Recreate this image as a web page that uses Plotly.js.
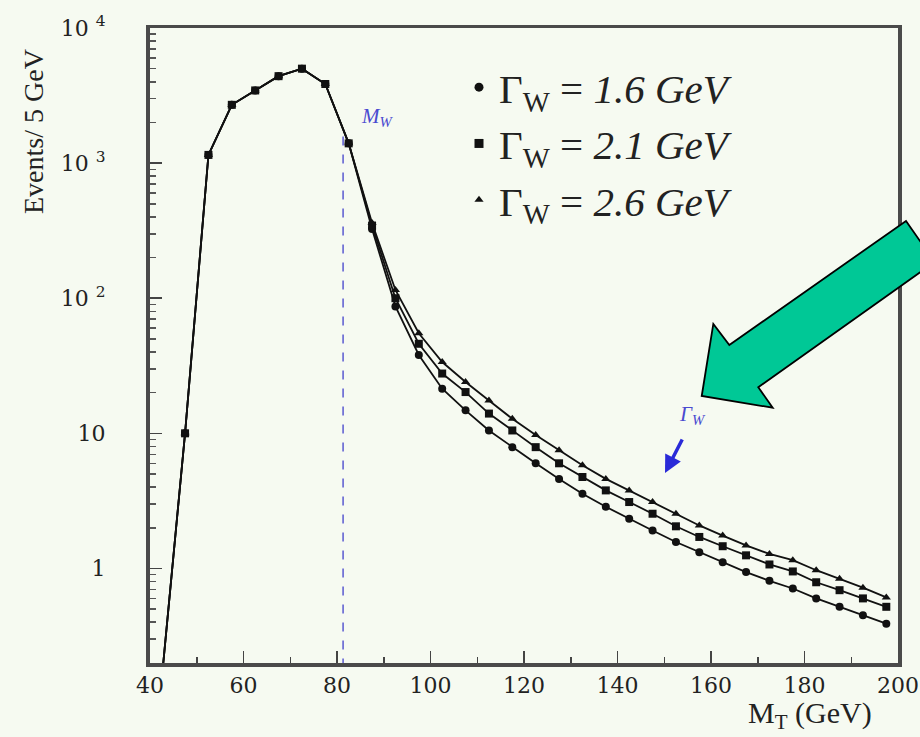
<!DOCTYPE html>
<html>
<head>
<meta charset="utf-8">
<script src="https://cdn.plot.ly/plotly-3.0.1.min.js"></script>
<style>
  html, body { margin: 0; padding: 0; background: #f6faf1; }
  #chart { width: 920px; height: 737px; }
</style>
</head>
<body>
<div id="chart"></div>
<script>
// ---- data ----
const mT = [42.5, 47.5, 52.5, 57.5, 62.5, 67.5, 72.5, 77.5, 82.5,
            87.5, 92.5, 97.5, 102.5, 107.5, 112.5, 117.5, 122.5, 127.5, 132.5,
            137.5, 142.5, 147.5, 152.5, 157.5, 162.5, 167.5, 172.5, 177.5,
            182.5, 187.5, 192.5, 197.5];
// common part of the three curves (42.5 .. 82.5 GeV)
const head = [0.15, 10, 1150, 2700, 3450, 4400, 5000, 3850, 1400];
// tails (87.5 .. 197.5 GeV)
const tail16 = [325, 87, 38, 21.4, 14.8, 10.5, 7.9, 6.0, 4.6, 3.57, 2.86, 2.33,
                1.91, 1.57, 1.32, 1.11, 0.94, 0.81, 0.71, 0.60, 0.52, 0.45, 0.39];
const tail21 = [345, 100, 46, 27.7, 20.2, 14.0, 10.5, 7.9, 6.0, 4.75, 3.78, 3.10,
                2.54, 2.05, 1.71, 1.46, 1.25, 1.07, 0.95, 0.79, 0.69, 0.60, 0.52];
const tail26 = [360, 115, 55, 33.7, 24, 17.5, 12.8, 9.7, 7.5, 5.8, 4.6, 3.78,
                3.10, 2.54, 2.08, 1.75, 1.48, 1.28, 1.15, 0.97, 0.84, 0.72, 0.61];
const seriesNames = ['Γ<sub>W</sub>&nbsp;= <i>1.6&nbsp;GeV</i>',
                     'Γ<sub>W</sub>&nbsp;= <i>2.1&nbsp;GeV</i>',
                     'Γ<sub>W</sub>&nbsp;= <i>2.6&nbsp;GeV</i>'];
const seriesSymbols = ['circle', 'square', 'triangle-up'];
const mW = 81.3;           // position of the dashed M_W line
const mWLineY = [0.1, 1700];
const xTicks = [40, 60, 80, 100, 120, 140, 160, 180, 200];
const yTicks = [1, 10, 100, 1000, 10000];
const yTickText = ['1', '10', '10 <sup>2</sup>', '10 <sup>3</sup>', '10 <sup>4</sup>'];

// ---- geometry helpers (plot area in pixels) ----
const L = 150, R = 898, T = 28, B = 663;
const px = x => (x - L) / (R - L);
const py = y => (B - y) / (B - T);

const tails = [tail16, tail21, tail26];
const traces = [];
// dashed M_W line
traces.push({
  x: [mW, mW], y: mWLineY, mode: 'lines', showlegend: false, hoverinfo: 'skip',
  line: {color: '#5a5ad0', width: 1.5, dash: 'dash'}
});
tails.forEach((t, i) => {
  traces.push({
    x: mT, y: head.concat(t), mode: 'lines+markers', showlegend: false,
    name: seriesNames[i],
    line: {color: '#111', width: 1.8},
    marker: {color: '#111', size: 8, symbol: seriesSymbols[i]}
  });
});
// legend entries (marker only, as in the reference)
seriesNames.forEach((n, i) => {
  traces.push({
    x: [null], y: [null], mode: 'markers', name: n, legendgroup: 'g' + i,
    marker: {color: '#111', size: i === 2 ? 8 : 9, symbol: seriesSymbols[i]}
  });
});

const serif = 'Liberation Serif, Times New Roman, serif';
const layout = {
  width: 920, height: 737,
  margin: {l: L, r: 920 - R, t: T, b: 737 - B},
  paper_bgcolor: '#f6faf1', plot_bgcolor: '#f6faf1',
  showlegend: true,
  legend: {
    x: px(459), y: py(54), xanchor: 'left', yanchor: 'top',
    bgcolor: 'rgba(0,0,0,0)', borderwidth: 0,
    font: {family: serif, size: 41, color: '#222'},
    itemwidth: 30, tracegroupgap: 0, traceorder: 'normal'
  },
  xaxis: {
    range: [40, 200], tickvals: xTicks, ticks: 'inside', ticklen: 12, tickwidth: 1.5,
    tickcolor: '#444', showgrid: false, zeroline: false,
    showline: true, mirror: true, linewidth: 3.5, linecolor: '#4a4a4a',
    tickfont: {family: 'DejaVu Serif, serif', size: 22, color: '#222'},
    minor: {dtick: 10, ticks: 'inside', ticklen: 6, tickcolor: '#444', showgrid: false}
  },
  yaxis: {
    type: 'log', range: [-0.7, 4], tickvals: yTicks, ticktext: yTickText,
    ticks: 'inside', ticklen: 12, tickwidth: 1.5, tickcolor: '#444',
    showgrid: false, zeroline: false,
    showline: true, mirror: true, linewidth: 4, linecolor: '#4a4a4a',
    ticklabelstandoff: 36,
    tickfont: {family: 'DejaVu Serif, serif', size: 22, color: '#222'},
    minor: {dtick: 'D1', ticks: 'inside', ticklen: 6, tickcolor: '#555', showgrid: false}
  },
  annotations: [
    {xref: 'paper', yref: 'paper', x: px(33), y: py(132), xanchor: 'center', yanchor: 'middle',
     text: 'Events/ 5 GeV', textangle: -90, showarrow: false,
     font: {family: serif, size: 28, color: '#222'}},
    {xref: 'paper', yref: 'paper', x: px(810), y: py(736), xanchor: 'center', yanchor: 'bottom',
     text: 'M<sub>T</sub>&nbsp;(GeV)', showarrow: false,
     font: {family: serif, size: 30, color: '#222'}},
    {xref: 'paper', yref: 'paper', x: px(377), y: py(117), xanchor: 'center', yanchor: 'middle',
     text: '<i>M<sub>W</sub></i>', showarrow: false,
     font: {family: serif, size: 21, color: '#4a4ad0'}},
    {xref: 'paper', yref: 'paper', x: px(692), y: py(415), xanchor: 'center', yanchor: 'middle',
     text: '<i>Γ<sub>W</sub></i>', showarrow: false,
     font: {family: serif, size: 21, color: '#4a4ad0'}},
    {xref: 'paper', yref: 'paper', x: px(665), y: py(473), text: '',
     showarrow: true, ax: 18, ay: -35, arrowhead: 2, arrowsize: 1, arrowwidth: 3.5,
     arrowcolor: '#2a2ad8'}
  ],
  shapes: [
    {type: 'path', xref: 'paper', yref: 'paper',
     path: 'M ' + [[701.7, 396], [713.3, 324], [729.3, 345], [906, 221], [934.7, 262],
                   [758.3, 387.3], [772.7, 407.7]]
            .map(p => px(p[0]).toFixed(4) + ' ' + py(p[1]).toFixed(4)).join(' L ') + ' Z',
     fillcolor: '#00c896', line: {color: '#000', width: 1.8}}
  ]
};

Plotly.newPlot('chart', traces, layout, {displayModeBar: false, staticPlot: true});
</script>
</body>
</html>
